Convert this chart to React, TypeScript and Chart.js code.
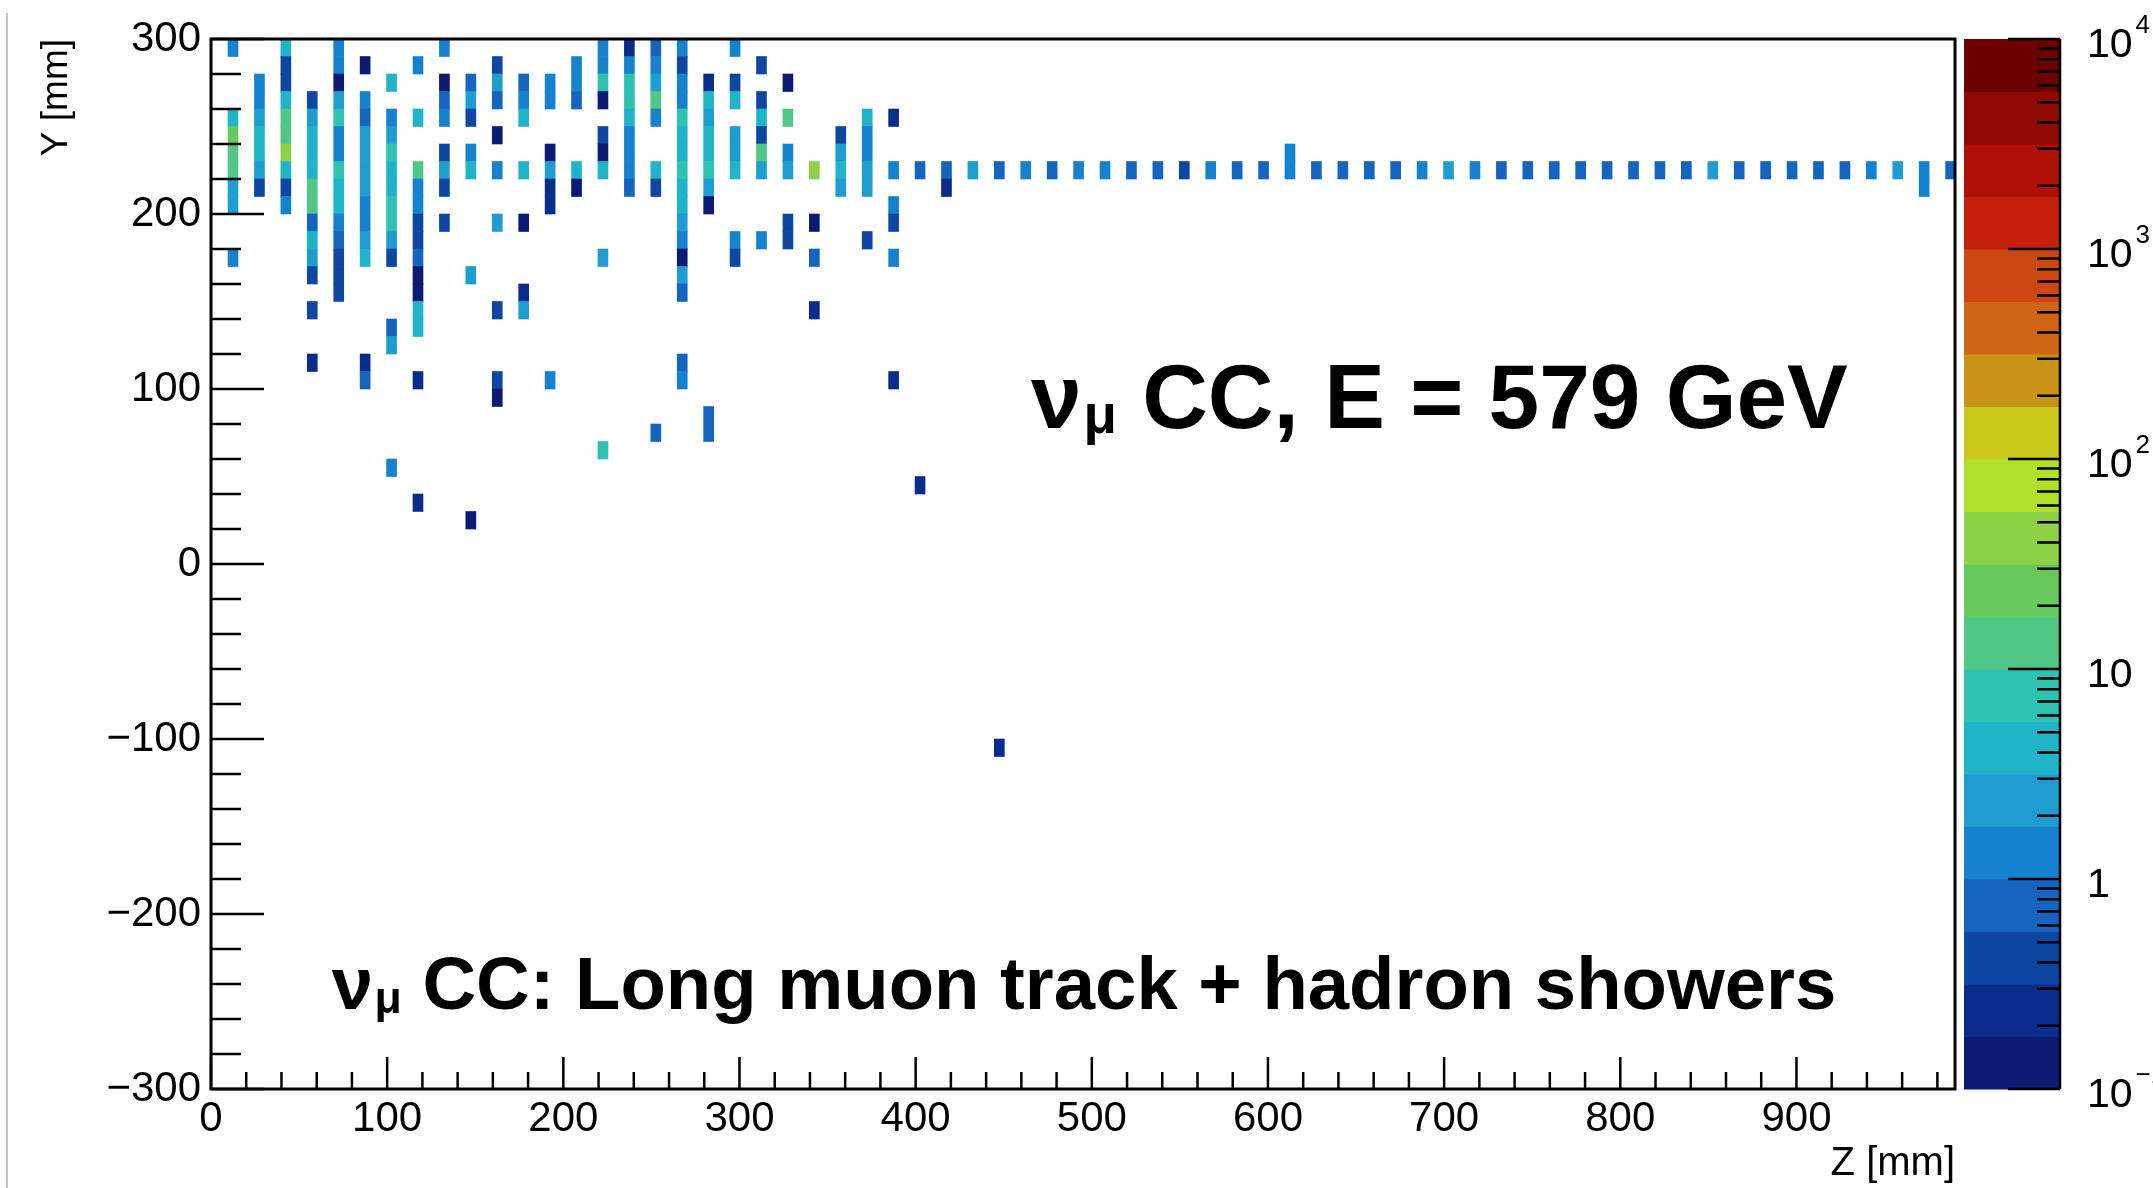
import React, { useEffect, useRef } from 'react';
import { Chart, registerables } from 'chart.js';

Chart.register(...registerables);

// ---------------- data ----------------
// Each hit: [z (mm, layer centre), lower edge of the 10 mm y bin (mm), deposited value]
const SHOWER_HITS: number[][] = [
  [12.5, 290, 1.3], [12.5, 250, 4.2], [12.5, 240, 24], [12.5, 230, 14], [12.5, 220, 14], [12.5, 210, 2.4], [12.5, 200, 2.4], [12.5, 170, 1.3],
  [27.5, 270, 1.3], [27.5, 260, 1.3], [27.5, 250, 2.4], [27.5, 240, 4.2], [27.5, 230, 4.2], [27.5, 220, 2.4], [27.5, 210, 0.42],
  [42.5, 290, 4.2], [42.5, 280, 0.42], [42.5, 270, 0.42], [42.5, 260, 4.2], [42.5, 250, 14], [42.5, 240, 14], [42.5, 230, 45], [42.5, 220, 4.2], [42.5, 210, 0.42], [42.5, 200, 1.3],
  [57.5, 260, 0.42], [57.5, 250, 2.4], [57.5, 240, 4.2], [57.5, 230, 4.2], [57.5, 220, 4.2], [57.5, 210, 14], [57.5, 200, 14], [57.5, 190, 0.75], [57.5, 180, 4.2], [57.5, 170, 2.4], [57.5, 160, 0.42], [57.5, 140, 0.42], [57.5, 110, 0.24],
  [72.5, 290, 1.3], [72.5, 280, 1.3], [72.5, 270, 0.13], [72.5, 260, 2.4], [72.5, 250, 7.5], [72.5, 240, 1.3], [72.5, 230, 1.3], [72.5, 220, 7.5], [72.5, 210, 4.2], [72.5, 200, 4.2], [72.5, 190, 1.3], [72.5, 180, 0.75], [72.5, 170, 0.42], [72.5, 160, 0.42], [72.5, 150, 0.42],
  [87.5, 280, 0.13], [87.5, 260, 1.3], [87.5, 250, 0.75], [87.5, 240, 2.4], [87.5, 230, 2.4], [87.5, 220, 2.4], [87.5, 210, 2.4], [87.5, 200, 1.3], [87.5, 190, 1.3], [87.5, 180, 2.4], [87.5, 170, 4.2], [87.5, 110, 0.24], [87.5, 100, 0.75],
  [102.5, 270, 4.2], [102.5, 250, 1.3], [102.5, 240, 2.4], [102.5, 230, 7.5], [102.5, 220, 4.2], [102.5, 210, 4.2], [102.5, 200, 7.5], [102.5, 190, 7.5], [102.5, 180, 2.4], [102.5, 170, 0.42], [102.5, 130, 0.75], [102.5, 120, 2.4], [102.5, 50, 1.3],
  [117.5, 280, 1.3], [117.5, 250, 4.2], [117.5, 220, 14], [117.5, 210, 1.3], [117.5, 200, 1.3], [117.5, 190, 0.42], [117.5, 180, 0.42], [117.5, 170, 0.75], [117.5, 160, 0.13], [117.5, 150, 0.13], [117.5, 140, 4.2], [117.5, 130, 4.2], [117.5, 100, 0.24], [117.5, 30, 0.24],
  [132.5, 290, 1.3], [132.5, 270, 0.13], [132.5, 260, 0.75], [132.5, 250, 1.3], [132.5, 230, 0.42], [132.5, 220, 2.4], [132.5, 210, 0.42], [132.5, 190, 0.42],
  [147.5, 270, 0.75], [147.5, 260, 2.4], [147.5, 250, 0.42], [147.5, 230, 1.3], [147.5, 220, 4.2], [147.5, 160, 2.4], [147.5, 20, 0.13],
  [162.5, 280, 0.42], [162.5, 270, 2.4], [162.5, 260, 0.75], [162.5, 240, 0.13], [162.5, 220, 1.3], [162.5, 190, 2.4], [162.5, 140, 0.42], [162.5, 100, 0.42], [162.5, 90, 0.13],
  [177.5, 270, 0.75], [177.5, 260, 1.3], [177.5, 250, 4.2], [177.5, 220, 4.2], [177.5, 190, 0.13], [177.5, 150, 0.24], [177.5, 140, 2.4],
  [192.5, 270, 1.3], [192.5, 260, 1.3], [192.5, 230, 0.13], [192.5, 220, 2.4], [192.5, 210, 0.24], [192.5, 200, 0.24], [192.5, 100, 1.3],
  [207.5, 280, 1.3], [207.5, 270, 1.3], [207.5, 260, 0.75], [207.5, 220, 4.2], [207.5, 210, 0.13],
  [222.5, 290, 1.3], [222.5, 280, 1.3], [222.5, 270, 7.5], [222.5, 260, 0.13], [222.5, 240, 0.42], [222.5, 230, 0.13], [222.5, 220, 4.2], [222.5, 170, 2.4], [222.5, 60, 7.5],
  [237.5, 290, 0.24], [237.5, 280, 1.3], [237.5, 270, 7.5], [237.5, 260, 7.5], [237.5, 250, 4.2], [237.5, 240, 1.3], [237.5, 230, 1.3], [237.5, 220, 1.3], [237.5, 210, 0.75],
  [252.5, 290, 0.75], [252.5, 280, 1.3], [252.5, 270, 2.4], [252.5, 260, 14], [252.5, 250, 1.3], [252.5, 220, 4.2], [252.5, 210, 0.42], [252.5, 70, 0.75],
  [267.5, 290, 1.3], [267.5, 280, 0.42], [267.5, 270, 1.3], [267.5, 260, 1.3], [267.5, 250, 7.5], [267.5, 240, 4.2], [267.5, 230, 4.2], [267.5, 220, 7.5], [267.5, 210, 4.2], [267.5, 200, 4.2], [267.5, 190, 2.4], [267.5, 180, 1.3], [267.5, 170, 0.13], [267.5, 160, 2.4], [267.5, 150, 0.75], [267.5, 110, 0.75], [267.5, 100, 1.3],
  [282.5, 270, 0.24], [282.5, 260, 4.2], [282.5, 250, 2.4], [282.5, 240, 4.2], [282.5, 230, 4.2], [282.5, 220, 7.5], [282.5, 210, 2.4], [282.5, 200, 0.13], [282.5, 80, 0.75], [282.5, 70, 0.75],
  [297.5, 290, 1.3], [297.5, 270, 0.42], [297.5, 260, 4.2], [297.5, 240, 2.4], [297.5, 230, 2.4], [297.5, 220, 4.2], [297.5, 180, 1.3], [297.5, 170, 0.42],
  [312.5, 280, 0.42], [312.5, 260, 0.42], [312.5, 250, 4.2], [312.5, 240, 0.42], [312.5, 230, 14], [312.5, 220, 2.4], [312.5, 180, 1.3],
  [327.5, 270, 0.13], [327.5, 250, 14], [327.5, 230, 1.3], [327.5, 220, 2.4], [327.5, 190, 0.42], [327.5, 180, 0.42],
  [342.5, 220, 45], [342.5, 190, 0.13], [342.5, 170, 0.75], [342.5, 140, 0.24],
  [357.5, 240, 0.42], [357.5, 230, 2.4], [357.5, 220, 4.2], [357.5, 210, 2.4],
  [372.5, 250, 4.2], [372.5, 240, 1.3], [372.5, 230, 1.3], [372.5, 220, 2.4], [372.5, 210, 2.4], [372.5, 180, 0.42],
  [387.5, 250, 0.24], [387.5, 220, 1.3], [387.5, 200, 1.3], [387.5, 190, 0.42], [387.5, 170, 1.3], [387.5, 100, 0.24],
];

const MUON_TRACK_HITS: number[][] = [
  [402.5, 220, 0.7], [417.5, 220, 0.75], [417.5, 210, 0.22], [432.5, 220, 2.4], [447.5, 220, 0.7],
  [462.5, 220, 1.3], [477.5, 220, 0.7], [492.5, 220, 1.3], [507.5, 220, 1.3], [522.5, 220, 0.7],
  [537.5, 220, 0.7], [552.5, 220, 0.5], [567.5, 220, 1.3], [582.5, 220, 0.7], [597.5, 220, 0.7],
  [612.5, 230, 1.2], [612.5, 220, 1.3], [627.5, 220, 0.7], [642.5, 220, 0.7], [657.5, 220, 0.7],
  [672.5, 220, 0.7], [687.5, 220, 1.3], [702.5, 220, 2.4], [717.5, 220, 1.3], [732.5, 220, 0.7],
  [747.5, 220, 0.7], [762.5, 220, 0.7], [777.5, 220, 0.7], [792.5, 220, 0.7], [807.5, 220, 0.7],
  [822.5, 220, 0.7], [837.5, 220, 0.7], [852.5, 220, 2.4], [867.5, 220, 0.7], [882.5, 220, 0.7],
  [897.5, 220, 0.7], [912.5, 220, 0.7], [927.5, 220, 0.7], [942.5, 220, 1.3], [957.5, 220, 2.4],
  [972.5, 220, 1.3], [972.5, 210, 1.3], [987.5, 220, 0.7],
];

const ISOLATED_HITS: number[][] = [
  [402.5, 40, 0.24],
  [447.5, -110, 0.24],
];

const Y_BIN_HEIGHT = 10;

const X_TICKS = [0, 100, 200, 300, 400, 500, 600, 700, 800, 900];
const Y_TICKS = [-300, -200, -100, 0, 100, 200, 300];
const COLORBAR_LABELS = [
  { v: 0.1, base: '10', exp: '\u22121' },
  { v: 1, base: '1', exp: '' },
  { v: 10, base: '10', exp: '' },
  { v: 100, base: '10', exp: '2' },
  { v: 1000, base: '10', exp: '3' },
  { v: 10000, base: '10', exp: '4' },
];

const COLORBAR_MIN = 0.1;
const COLORBAR_MAX = 10000;
const PALETTE = [
  '#0b1a72', '#0a2d8c', '#0d47a1', '#1565c0', '#1582d0', '#1e9dd0', '#1fb4c8', '#2ec3b0', '#50c787', '#66c95c',
  '#8fd145', '#b0e02a', '#cac81a', '#c99318', '#d06615', '#cc4810', '#c4200c', '#b00f06', '#8e0a02', '#6c0000',
];

const FONT = '"Liberation Sans", Arial, Helvetica, sans-serif';

function colorFor(v: number): string {
  const n = PALETTE.length;
  const f = (Math.log10(v) - Math.log10(COLORBAR_MIN)) / (Math.log10(COLORBAR_MAX) - Math.log10(COLORBAR_MIN));
  const i = Math.max(0, Math.min(n - 1, Math.floor(f * n)));
  return PALETTE[i];
}

function toCells(hits: number[][]) {
  return hits.map(([z, y, v]) => ({ x: z, y: [y, y + Y_BIN_HEIGHT], v }));
}

const fmt = (v: number) => (v < 0 ? '\u2212' + Math.abs(v) : String(v));

function drawNuMu(ctx: CanvasRenderingContext2D, x: number, y: number, size: number, rest: string) {
  ctx.fillStyle = '#000';
  ctx.textAlign = 'left';
  ctx.textBaseline = 'alphabetic';
  ctx.font = `bold ${size}px ${FONT}`;
  ctx.fillText('\u03bd', x, y);
  let cx = x + ctx.measureText('\u03bd').width + size * 0.02;
  const sub = size * 0.6;
  ctx.font = `bold ${sub}px ${FONT}`;
  ctx.fillText('\u03bc', cx, y + size * 0.06);
  cx += ctx.measureText('\u03bc').width;
  ctx.font = `bold ${size}px ${FONT}`;
  ctx.fillText(rest, cx, y);
}

const decorPlugin = {
  id: 'decor',
  beforeDraw(chart: any) {
    const ctx = chart.ctx as CanvasRenderingContext2D;
    ctx.save();
    ctx.fillStyle = '#fff';
    ctx.fillRect(0, 0, chart.width, chart.height);
    ctx.fillStyle = '#c4c4c4';
    ctx.fillRect(6, 13, 2, chart.height - 13);
    ctx.restore();
  },
  afterDraw(chart: any) {
    const ctx = chart.ctx as CanvasRenderingContext2D;
    const { left, right, top, bottom } = chart.chartArea;
    const xs = chart.scales.x;
    const ys = chart.scales.y;
    const cb = chart.scales.cb;
    ctx.save();
    ctx.strokeStyle = '#000';
    ctx.lineCap = 'butt';

    // inward ticks
    ctx.lineWidth = 2.5;
    ctx.beginPath();
    for (let v = xs.min; v <= xs.max; v += 20) {
      const px = xs.getPixelForValue(v);
      const len = v % 100 === 0 ? 32 : 17;
      ctx.moveTo(px, bottom);
      ctx.lineTo(px, bottom - len);
    }
    for (let v = ys.min; v <= ys.max; v += 20) {
      const py = ys.getPixelForValue(v);
      const len = v % 100 === 0 ? 53 : 30;
      ctx.moveTo(left, py);
      ctx.lineTo(left + len, py);
    }
    ctx.stroke();

    // frame
    ctx.lineWidth = 3;
    ctx.strokeRect(left, top, right - left, bottom - top);

    // colour bar
    const bx0 = right + 9;
    const bx1 = bx0 + 96;
    const n = PALETTE.length;
    const lmin = Math.log10(COLORBAR_MIN);
    const lmax = Math.log10(COLORBAR_MAX);
    for (let i = 0; i < n; i++) {
      const v0 = Math.pow(10, lmin + ((lmax - lmin) * i) / n);
      const v1 = Math.pow(10, lmin + ((lmax - lmin) * (i + 1)) / n);
      const y0 = cb.getPixelForValue(v0);
      const y1 = cb.getPixelForValue(v1);
      ctx.fillStyle = PALETTE[i];
      ctx.fillRect(bx0, y1, bx1 - bx0, y0 - y1 + 0.5);
    }
    ctx.lineWidth = 2.5;
    ctx.beginPath();
    ctx.moveTo(bx1, cb.getPixelForValue(COLORBAR_MAX));
    ctx.lineTo(bx1, cb.getPixelForValue(COLORBAR_MIN));
    for (let d = lmin; d <= lmax; d++) {
      for (let m = 1; m <= 9; m++) {
        const v = m * Math.pow(10, d);
        if (v > COLORBAR_MAX * 1.0001) break;
        const py = cb.getPixelForValue(v);
        const len = m === 1 ? 52 : 23;
        ctx.moveTo(bx1, py);
        ctx.lineTo(bx1 - len, py);
      }
    }
    ctx.stroke();

    ctx.fillStyle = '#000';
    for (const lab of COLORBAR_LABELS) {
      const py = cb.getPixelForValue(lab.v);
      const base = py + 18;
      ctx.font = `41px ${FONT}`;
      ctx.textAlign = 'left';
      ctx.textBaseline = 'alphabetic';
      ctx.fillText(lab.base, bx1 + 27, base);
      if (lab.exp) {
        const w = ctx.measureText(lab.base).width;
        ctx.font = `26px ${FONT}`;
        ctx.fillText(lab.exp, bx1 + 27 + w + 3, base - 24);
      }
    }

    // annotations
    drawNuMu(ctx, xs.getPixelForValue(465.5), ys.getPixelForValue(77.7), 91, ' CC, E = 579 GeV');
    drawNuMu(ctx, xs.getPixelForValue(68.5), ys.getPixelForValue(-254.3), 74.3, ' CC: Long muon track + hadron showers');
    ctx.restore();
  },
};

export default function App() {
  const ref = useRef<HTMLCanvasElement | null>(null);

  useEffect(() => {
    if (!ref.current) return;
    Chart.defaults.font.family = FONT;
    const cells = [...toCells(SHOWER_HITS), ...toCells(MUON_TRACK_HITS), ...toCells(ISOLATED_HITS)];
    const chart = new Chart(ref.current, {
      type: 'bar',
      data: {
        datasets: [
          {
            data: cells as any,
            backgroundColor: (c: any) => (c.raw ? colorFor(c.raw.v) : '#000'),
            borderWidth: 0,
            barThickness: 10,
            grouped: false,
          } as any,
        ],
      },
      options: {
        responsive: false,
        animation: false,
        events: [],
        layout: { padding: { left: 0, top: 39, right: 198, bottom: 0 } },
        plugins: { legend: { display: false }, tooltip: { enabled: false } },
        scales: {
          x: {
            type: 'linear',
            min: 0,
            max: 990,
            offset: false,
            grid: { display: false, drawTicks: false },
            border: { display: false },
            afterBuildTicks: (s: any) => {
              s.ticks = X_TICKS.map((v) => ({ value: v }));
            },
            afterFit: (s: any) => {
              s.height = 99;
            },
            ticks: {
              autoSkip: false,
              maxRotation: 0,
              padding: 5,
              color: '#000',
              font: { size: 42, family: FONT },
              callback: (v: any) => fmt(Number(v)),
            },
            title: {
              display: true,
              text: 'Z [mm]',
              align: 'end',
              color: '#000',
              font: { size: 40, family: FONT },
              padding: { top: 0, bottom: 0 },
            },
          },
          y: {
            type: 'linear',
            min: -300,
            max: 300,
            grid: { display: false, drawTicks: false },
            border: { display: false },
            afterBuildTicks: (s: any) => {
              s.ticks = Y_TICKS.map((v) => ({ value: v }));
            },
            afterFit: (s: any) => {
              s.width = 211;
            },
            ticks: {
              autoSkip: false,
              padding: 10,
              color: '#000',
              font: { size: 42, family: FONT },
              callback: (v: any) => fmt(Number(v)),
            },
            title: {
              display: true,
              text: 'Y [mm]',
              align: 'end',
              color: '#000',
              font: { size: 37, family: FONT },
              padding: { top: 35, bottom: 0 },
            },
          },
          cb: {
            type: 'logarithmic',
            position: 'right',
            min: COLORBAR_MIN,
            max: COLORBAR_MAX,
            display: false,
          },
        },
      } as any,
      plugins: [decorPlugin],
    });
    return () => chart.destroy();
  }, []);

  return (
    <div style={{ position: 'fixed', left: 0, top: 0, width: 2153, height: 1188, background: '#fff' }}>
      <canvas ref={ref} width={2153} height={1188} style={{ display: 'block', width: 2153, height: 1188 }} />
    </div>
  );
}
